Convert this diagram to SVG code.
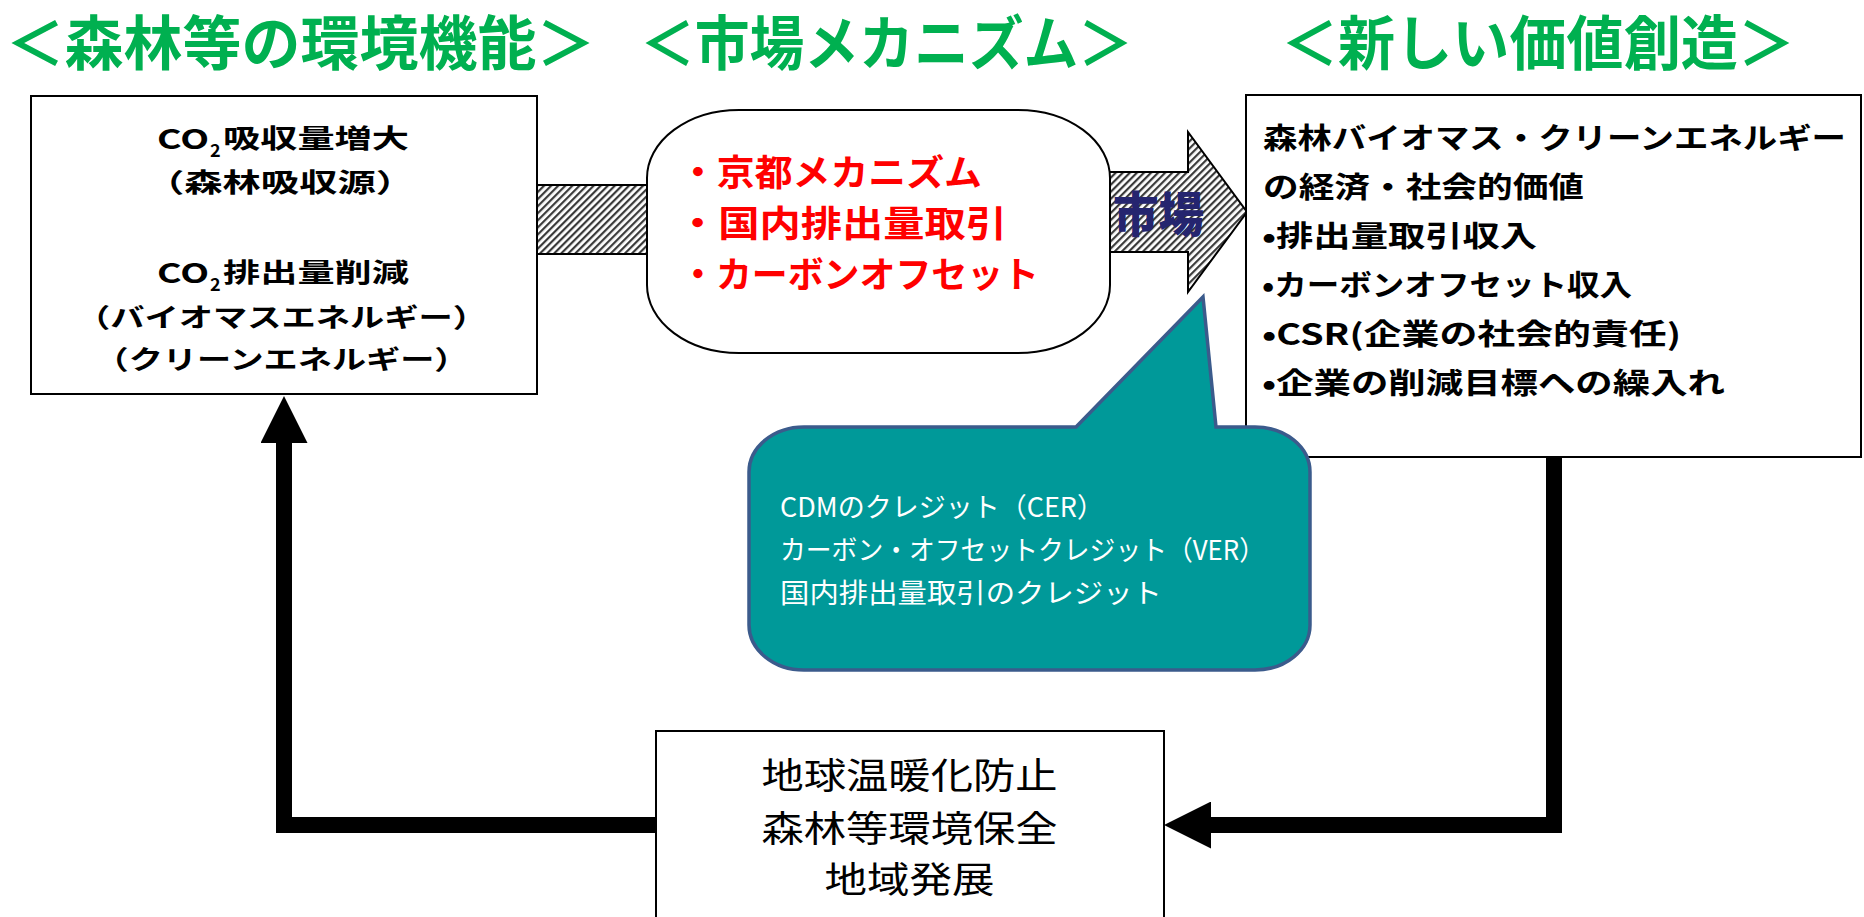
<svg xmlns="http://www.w3.org/2000/svg" width="1864" height="917" viewBox="0 0 1864 917">
<style>
text{font-family:"Noto Sans CJK JP","Noto Sans",sans-serif;}
.title{font-size:59px;font-weight:700;fill:#00B050;text-anchor:middle;}
.box{fill:#ffffff;stroke:#000000;stroke-width:2;}
.lt{font-size:26px;font-weight:700;fill:#000000;}
.rt{font-size:29px;font-weight:700;fill:#000000;}
.red{font-size:36px;font-weight:700;fill:#FF0000;}
.co{font-size:27px;fill:#ffffff;}
.bt{font-size:36px;fill:#000000;text-anchor:middle;}
.mid{text-anchor:middle;}
.hatched{fill:url(#hatch);stroke:#000000;stroke-width:2;}
.conn{fill:none;stroke:#000000;stroke-width:16;stroke-linejoin:miter;marker-end:url(#ah);}
</style>
<defs>
<pattern id="hatch" width="5" height="5" patternUnits="userSpaceOnUse" patternTransform="rotate(45)">
<rect x="0" y="0" width="5" height="5" fill="#ffffff"/>
<rect x="0" y="0" width="2.2" height="5" fill="#3a3a3a"/>
</pattern>
<marker id="ah" viewBox="0 0 47 47" refX="0" refY="23.5" markerWidth="47" markerHeight="47" orient="auto" markerUnits="userSpaceOnUse">
<path d="M0,0 L47,23.5 L0,47 Z" fill="#000000"/>
</marker>
</defs>
<rect width="1864" height="917" fill="#ffffff"/>

<g id="titles">
<text class="title" x="300.5" y="65" textLength="590" lengthAdjust="spacingAndGlyphs">＜森林等の環境機能＞</text>
<text class="title" x="886.5" y="65" textLength="493" lengthAdjust="spacingAndGlyphs">＜市場メカニズム＞</text>
<text class="title" x="1538" y="65" textLength="514" lengthAdjust="spacingAndGlyphs">＜新しい価値創造＞</text>
</g>

<g id="connectors">
<rect class="hatched" x="537" y="185" width="112" height="69"/>
<path class="hatched" d="M1100,172 H1188 V132 L1247,212 L1188,292 V252 H1100 Z"/>
<path class="conn" d="M656,825 H284 V443"/>
<path class="conn" d="M1554,457 V825 H1211"/>
</g>

<g id="node-forest">
<rect class="box" x="31" y="96" width="506" height="298"/>
<text class="lt" x="157" y="149" textLength="52" lengthAdjust="spacingAndGlyphs" style="font-size:27px">CO</text>
<text class="lt" x="210" y="157" style="font-size:18px">2</text>
<text class="lt" x="223" y="148" textLength="186" lengthAdjust="spacingAndGlyphs">吸収量増大</text>
<text class="lt mid" x="280" y="192" textLength="268" lengthAdjust="spacingAndGlyphs">（森林吸収源）</text>
<text class="lt" x="157" y="283" textLength="52" lengthAdjust="spacingAndGlyphs" style="font-size:27px">CO</text>
<text class="lt" x="210" y="291" style="font-size:18px">2</text>
<text class="lt" x="223" y="282" textLength="186" lengthAdjust="spacingAndGlyphs">排出量削減</text>
<text class="lt mid" x="281.5" y="327" textLength="411" lengthAdjust="spacingAndGlyphs">（バイオマスエネルギー）</text>
<text class="lt mid" x="281.5" y="369" textLength="374" lengthAdjust="spacingAndGlyphs">（クリーンエネルギー）</text>
</g>

<g id="node-market">
<rect x="647" y="110" width="463" height="243" rx="92" ry="68" fill="#ffffff" stroke="#000000" stroke-width="2"/>
<text class="red" x="679" y="186" textLength="303" lengthAdjust="spacingAndGlyphs">・京都メカニズム</text>
<text class="red" x="677" y="237" textLength="330" lengthAdjust="spacingAndGlyphs">・国内排出量取引</text>
<text class="red" x="680" y="288" textLength="359" lengthAdjust="spacingAndGlyphs">・カーボンオフセット</text>
</g>

<g id="label-market">
<text x="1113" y="232" textLength="91" lengthAdjust="spacingAndGlyphs" style="font-size:48px;font-weight:900;fill:#25256F">市場</text>
</g>

<g id="node-value">
<rect class="box" x="1246" y="95" width="615" height="362"/>
<text class="rt" x="1263" y="149" textLength="583" lengthAdjust="spacingAndGlyphs">森林バイオマス・クリーンエネルギー</text>
<text class="rt" x="1263" y="198" textLength="321" lengthAdjust="spacingAndGlyphs">の経済・社会的価値</text>
<text class="rt" x="1262" y="247" textLength="275" lengthAdjust="spacingAndGlyphs">•排出量取引収入</text>
<text class="rt" x="1262" y="296" textLength="370" lengthAdjust="spacingAndGlyphs">•カーボンオフセット収入</text>
<text class="rt" x="1262" y="345" textLength="419" lengthAdjust="spacingAndGlyphs">•CSR(企業の社会的責任)</text>
<text class="rt" x="1262" y="394" textLength="463" lengthAdjust="spacingAndGlyphs">•企業の削減目標への繰入れ</text>
</g>

<g id="callout-credit">
<path d="M804,427 H1076 L1203,297 L1216,427 H1255 A55,45 0 0 1 1310,472 V625 A55,45 0 0 1 1255,670 H804 A55,45 0 0 1 749,625 V472 A55,45 0 0 1 804,427 Z" fill="#009999" stroke="#3B5B8C" stroke-width="3.5"/>
<text class="co" x="780" y="517" textLength="324" lengthAdjust="spacingAndGlyphs">CDMのクレジット（CER）</text>
<text class="co" x="780" y="560" textLength="485" lengthAdjust="spacingAndGlyphs">カーボン・オフセットクレジット（VER）</text>
<text class="co" x="780" y="603" textLength="382" lengthAdjust="spacingAndGlyphs">国内排出量取引のクレジット</text>
</g>

<g id="node-result">
<rect class="box" x="656" y="731" width="508" height="200"/>
<text class="bt" x="909.5" y="789" textLength="296" lengthAdjust="spacingAndGlyphs">地球温暖化防止</text>
<text class="bt" x="909.5" y="842" textLength="296" lengthAdjust="spacingAndGlyphs">森林等環境保全</text>
<text class="bt" x="909.5" y="893" textLength="170" lengthAdjust="spacingAndGlyphs">地域発展</text>
</g>
</svg>
